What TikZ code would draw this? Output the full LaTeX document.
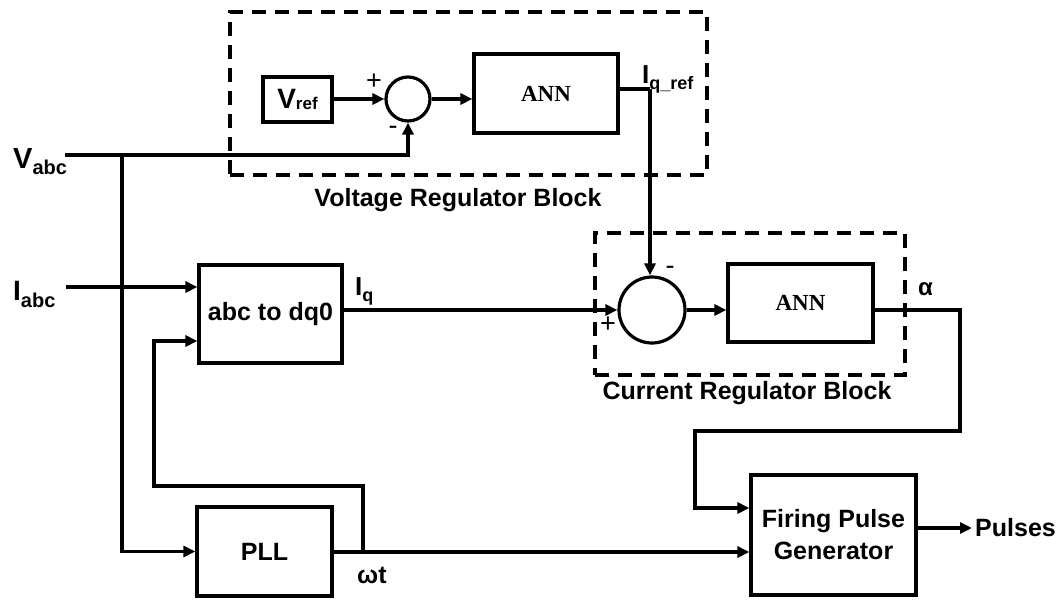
\documentclass[tikz,border=0pt]{standalone}
\usepackage{fontspec}
\setmainfont{Liberation Sans}
\newfontfamily\annfont{Liberation Serif}
\usetikzlibrary{arrows.meta}
\newcommand{\fs}[1]{\fontsize{#1}{#1}\selectfont}
\newcommand{\lowsub}[3]{\raisebox{-#1pt}{\fs{#2}#3}}
\tikzset{
  blk/.style={draw, line width=3.2pt, inner sep=0pt, rectangle},
  sumc/.style={draw, line width=3.2pt, circle, inner sep=0pt},
  dashbox/.style={draw, line width=4pt, dash pattern=on 14pt off 9pt, inner sep=0pt, rectangle},
  wire/.style={line width=3.2pt},
  arr/.style={line width=3.2pt, -{Triangle[length=12pt,width=11pt]}},
  lbl/.style={inner sep=0pt, font=\bfseries\fs{25}},
  sgn/.style={inner sep=0pt, font=\fs{27}},
}
\begin{document}
\begin{tikzpicture}[x=1pt, y=-1pt]
\useasboundingbox (0,0) rectangle (1061,600);
% dashed regions
\node[dashbox, minimum width=477pt, minimum height=163pt] (vbox) at (468.5,93.5) {};
\node[dashbox, minimum width=310pt, minimum height=142pt] (cbox) at (750,304) {};
\node[lbl] (vlab) at (458,200) {Voltage Regulator Block};
\node[lbl] (clab) at (747,393) {Current Regulator Block};
% blocks
\node[blk, minimum width=69pt, minimum height=45pt] (vref) at (297.5,99.5) {\bfseries\fs{28}V\lowsub{1}{17}{ref}};
\node[sumc, minimum size=44pt] (s1) at (408,99) {};
\node[blk, minimum width=144pt, minimum height=79pt] (ann1) at (546,93.5) {\annfont\bfseries\fs{23}ANN};
\node[sumc, minimum size=66pt] (s2) at (652,310) {};
\node[blk, minimum width=145pt, minimum height=78pt] (ann2) at (800.5,303) {\annfont\bfseries\fs{23}ANN};
\node[blk, minimum width=143pt, minimum height=98pt, font=\bfseries\fs{25}] (dq) at (270.5,314) {abc to dq0};
\node[blk, minimum width=135pt, minimum height=89pt, font=\bfseries\fs{25}] (pll) at (264.5,551.5) {PLL};
\node[blk, minimum width=165pt, minimum height=120pt, align=center, font=\bfseries\fontsize{25}{32}\selectfont] (fpg) at (833.5,535) {Firing Pulse\\Generator};
% signal labels
\node[lbl, anchor=base west] (vabcl) at (13,168) {\fs{29}V\lowsub{6}{20}{abc}};
\node[lbl, anchor=base west] (iabcl) at (13,300) {\fs{28}I\lowsub{7}{20}{abc}};
\node[lbl, anchor=base west] (iql) at (355,295) {\fs{26}I\lowsub{6}{18}{q}};
\node[lbl, anchor=base west] (iqrl) at (642,83) {\fs{26}I\lowsub{6}{18}{q\_ref}};
\node[lbl, anchor=base west] (alph) at (918,295) {\fs{24}α};
\node[lbl, anchor=base west] (wt) at (357,583) {\fs{25}ωt};
\node[lbl, anchor=west] (pul) at (975,528) {Pulses};
\node[sgn] (p1) at (374,82) {+};
\node[sgn] (m1) at (393,130) {-};
\node[sgn] (m2) at (670,270) {-};
\node[sgn] (p2) at (608,325) {+};
% coordinates
\coordinate (vabc) at (65,155);
\coordinate (br1) at (122,155);
\coordinate (iabc) at (66,287);
\coordinate (iqr) at (650,89);
\coordinate (wtj) at (363,552);
\coordinate (fb1) at (363,486);
\coordinate (fb2) at (154,486);
\coordinate (fb3) at (154,341);
\coordinate (al1) at (960,310);
\coordinate (al2) at (960,431);
\coordinate (al3) at (695,431);
\coordinate (al4) at (695,508);
\coordinate (pend) at (972,528);
% connectors
\draw[arr] (vref.east |- s1) -- (s1.west);
\draw[arr] (s1.east) -- (s1.east -| ann1.west);
\draw[wire] (ann1.east |- iqr) -- (iqr);
\draw[arr] (iqr) -- (iqr |- s2.north);
\draw[arr] (vabc) -| (s1.south);
\draw[arr] (br1) |- (pll.west);
\draw[arr] (iabc) -- (iabc -| dq.west);
\draw[arr] (wtj) -- (fb1) -- (fb2) -- (fb3) -- (fb3 -| dq.west);
\draw[arr] (pll.east |- wtj) -- (wtj -| fpg.west);
\draw[arr] (dq.east |- s2) -- (s2.west);
\draw[arr] (s2.east) -- (s2.east -| ann2.west);
\draw[arr] (ann2.east |- al1) -- (al1) -- (al2) -- (al3) -- (al4) -- (al4 -| fpg.west);
\draw[arr] (fpg.east |- pend) -- (pend);
\end{tikzpicture}
\end{document}
